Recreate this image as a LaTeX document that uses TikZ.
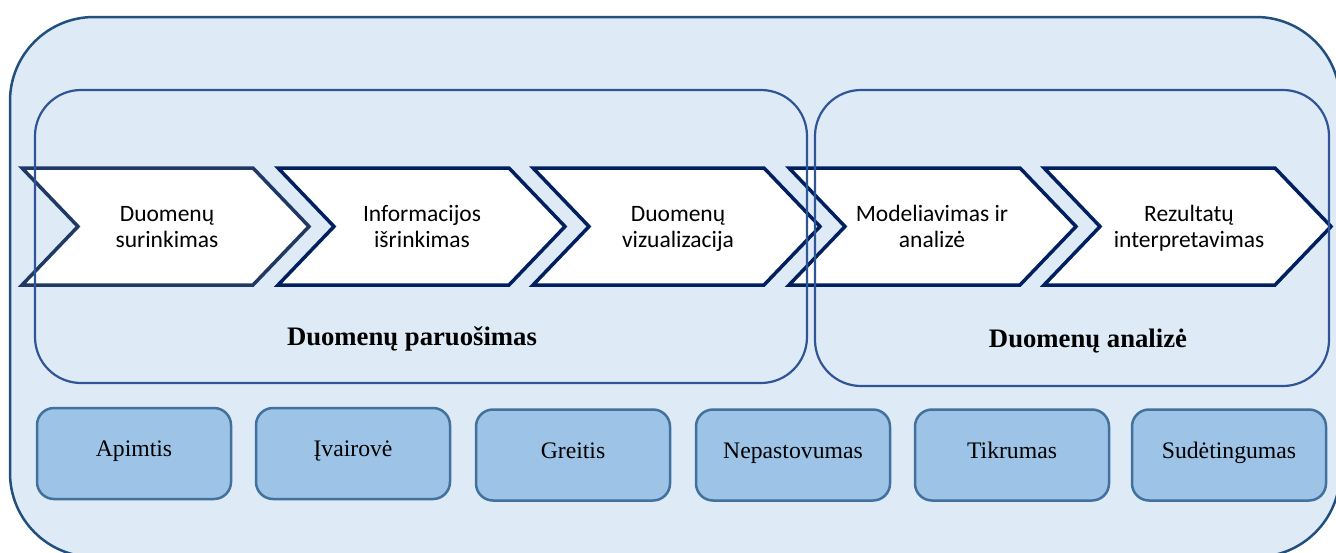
\documentclass[tikz,border=0pt]{standalone}
\usepackage{fontspec}
\setmainfont{Liberation Serif}
\newfontfamily\calibri{Carlito}
\definecolor{outerfill}{HTML}{DEEAF6}
\definecolor{outerdraw}{HTML}{22507E}
\definecolor{innerdraw}{HTML}{2F5597}
\definecolor{navy}{HTML}{002060}
\definecolor{navyA}{HTML}{203864}
\definecolor{attrfill}{HTML}{9DC3E6}
\definecolor{attrdraw}{HTML}{41719C}
\begin{document}
\begin{tikzpicture}[x=1pt,y=-1pt,
  outerbox/.style={draw=outerdraw,fill=outerfill,line width=2.5pt,rounded corners=84pt},
  innerbox/.style={draw=innerdraw,line width=2.2pt,rounded corners=46pt},
  chev/.style={draw=navy,fill=white,line width=3.5pt,line join=miter},
  chevtext/.style={align=center,font=\calibri\fontsize{23.5}{26}\selectfont,inner sep=0pt},
  attr/.style={draw=attrdraw,fill=attrfill,line width=2.5pt,rounded corners=17pt,
    minimum width=194pt,minimum height=91pt,inner sep=0pt,
    text height=16pt,text depth=10pt,
    font=\fontsize{23.7}{27}\selectfont},
  grouplabel/.style={font=\bfseries\fontsize{26.7}{30}\selectfont,inner sep=0pt,anchor=base}]
\useasboundingbox (0,0) rectangle (1336,552);
\clip (0,0) rectangle (1336,552);
\draw[outerbox] (10,17) rectangle (1340,557);
% chevrons
\draw[chev,draw=navyA] (22,168) -- (253,168) -- (309,226.5) -- (253,285) -- (22,285) -- (78,226.5) -- cycle;
\foreach \l in {278,533,789,1044}
  \draw[chev] (\l,168) -- (\l+231,168) -- (\l+287,226.5) -- (\l+231,285) -- (\l,285) -- (\l+56,226.5) -- cycle;
\node[chevtext] (c1) at (167,228.8) {Duomenų\strut\\surinkimas\strut};
\node[chevtext] (c2) at (422,228.8) {Informacijos\strut\\išrinkimas\strut};
\node[chevtext] (c3) at (678,228.8) {Duomenų\strut\\vizualizacija\strut};
\node[chevtext] (c4) at (932,228.8) {Modeliavimas ir\strut\\analizė\strut};
\node[chevtext] (c5) at (1189,228.8) {Rezultatų\strut\\interpretavimas\strut};
% inner groups
\draw[innerbox] (35,90) rectangle (807,383);
\draw[innerbox] (815,90) rectangle (1329,386);
\node[grouplabel] (g1) at (412,345) {Duomenų paruošimas};
\node[grouplabel] (g2) at (1088,347) {Duomenų analizė};
% attributes
\node[attr] (a1) at (134,453.5) {Apimtis};
\node[attr] (a2) at (353,453.5) {Įvairovė};
\node[attr] (a3) at (573,455) {Greitis};
\node[attr] (a4) at (793,455) {Nepastovumas};
\node[attr] (a5) at (1012,455) {Tikrumas};
\node[attr] (a6) at (1229,455) {Sudėtingumas};
\end{tikzpicture}
\end{document}
